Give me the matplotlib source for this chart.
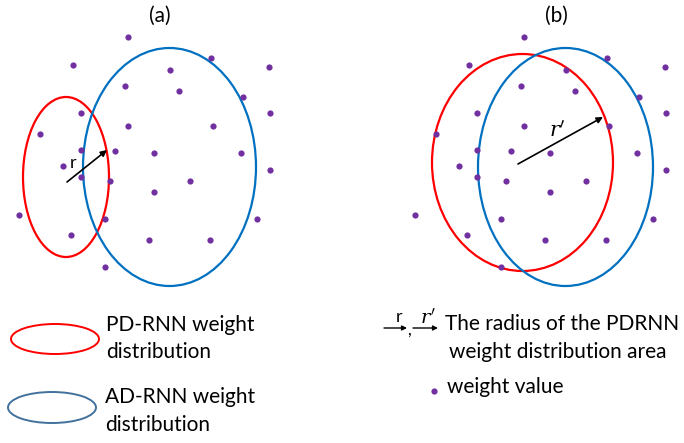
import matplotlib
matplotlib.use('Agg')
import matplotlib.pyplot as plt
from matplotlib.patches import Ellipse

plt.rcParams['font.family'] = ['Lato', 'DejaVu Sans']
plt.rcParams['mathtext.fontset'] = 'dejavuserif'

# weight points of panel (a), in image pixels; panel (b) is the same cloud shifted right
pts_x = [128, 73, 170, 211, 269, 125, 179, 243, 81, 40, 128, 213, 270, 81, 115,
         154, 241, 63, 81, 110, 154, 190, 270, 19, 105, 257, 71, 149, 210, 105]
pts_y = [37, 65, 70, 58, 67, 86, 91, 97, 113, 134, 126, 126, 113, 150, 151,
         153, 153, 166, 177, 181, 192, 181, 170, 215, 219, 219, 235, 240, 240, 267]
panel_shift = [0, 396]
panel_titles = ['(a)', '(b)']

# ellipses: (cx, cy, width, height)
pd_ellipses = [(66, 177, 86, 160), (522.5, 162.5, 181, 217)]
ad_ellipses = [(169.5, 167, 173, 238), (565.5, 167, 175, 238)]

# radius arrows: (x0, y0, x1, y1)
arrows = [(67, 182, 107, 150), (518, 164, 603, 117)]
arrow_labels = ['r', r'$r^{\prime}$']
arrow_label_pos = [(73, 163), (557, 131)]
arrow_label_size = [13, 15]

PURPLE = '#7030A0'
RED = '#FF0000'
BLUE = '#0070C0'
LEG_BLUE = '#41719C'

fig = plt.figure(figsize=(6.84, 4.43), dpi=100)
ax = fig.add_axes([0, 0, 1, 1])
ax.set_xlim(0, 684)
ax.set_ylim(443, 0)
ax.axis('off')

for i in range(2):
    s = panel_shift[i]
    ax.scatter([x + s for x in pts_x], pts_y, s=20, color=PURPLE, zorder=3, linewidths=0)
    cx, cy, w, h = pd_ellipses[i]
    ax.add_patch(Ellipse((cx, cy), w, h, fill=False, ec=RED, lw=1.6))
    cx, cy, w, h = ad_ellipses[i]
    ax.add_patch(Ellipse((cx, cy), w, h, fill=False, ec=BLUE, lw=1.6))
    x0, y0, x1, y1 = arrows[i]
    ax.annotate('', xy=(x1, y1), xytext=(x0, y0),
                arrowprops=dict(arrowstyle='-|>', color='black', lw=1.2,
                                mutation_scale=9, shrinkA=0, shrinkB=0))
    ax.text(arrow_label_pos[i][0], arrow_label_pos[i][1], arrow_labels[i],
            fontsize=arrow_label_size[i], ha='center', va='center')
    ax.text(160 + s, 16, panel_titles[i], fontsize=15, ha='center', va='center')

# legend, left side
ax.add_patch(Ellipse((55, 339), 88, 30, fill=False, ec=RED, lw=1.4))
ax.add_patch(Ellipse((52, 407.5), 88, 31, fill=False, ec=LEG_BLUE, lw=1.4))
ax.text(106, 325, 'PD-RNN weight', fontsize=15, va='center')
ax.text(106, 352, 'distribution', fontsize=15, va='center')
ax.text(105, 397, 'AD-RNN weight', fontsize=15, va='center')
ax.text(105, 425, 'distribution', fontsize=15, va='center')

# legend, right side
for (xa, xb, lab, lx, fs) in [(384, 407, 'r', 399, 13), (413, 438, r'$r^{\prime}$', 428, 14)]:
    ax.annotate('', xy=(xb, 328), xytext=(xa, 328),
                arrowprops=dict(arrowstyle='-|>', color='black', lw=1.0,
                                mutation_scale=7, shrinkA=0, shrinkB=0))
    ax.text(lx, 317, lab, fontsize=fs, ha='center', va='center')
ax.text(409, 330, ',', fontsize=12, ha='center', va='center')
ax.text(445, 324, 'The radius of the PDRNN', fontsize=15, va='center')
ax.text(449, 352, 'weight distribution area', fontsize=15, va='center')
ax.scatter([434], [391], s=20, color=PURPLE, linewidths=0)
ax.text(447, 387, 'weight value', fontsize=15, va='center')

fig.savefig('out.png', dpi=100)
